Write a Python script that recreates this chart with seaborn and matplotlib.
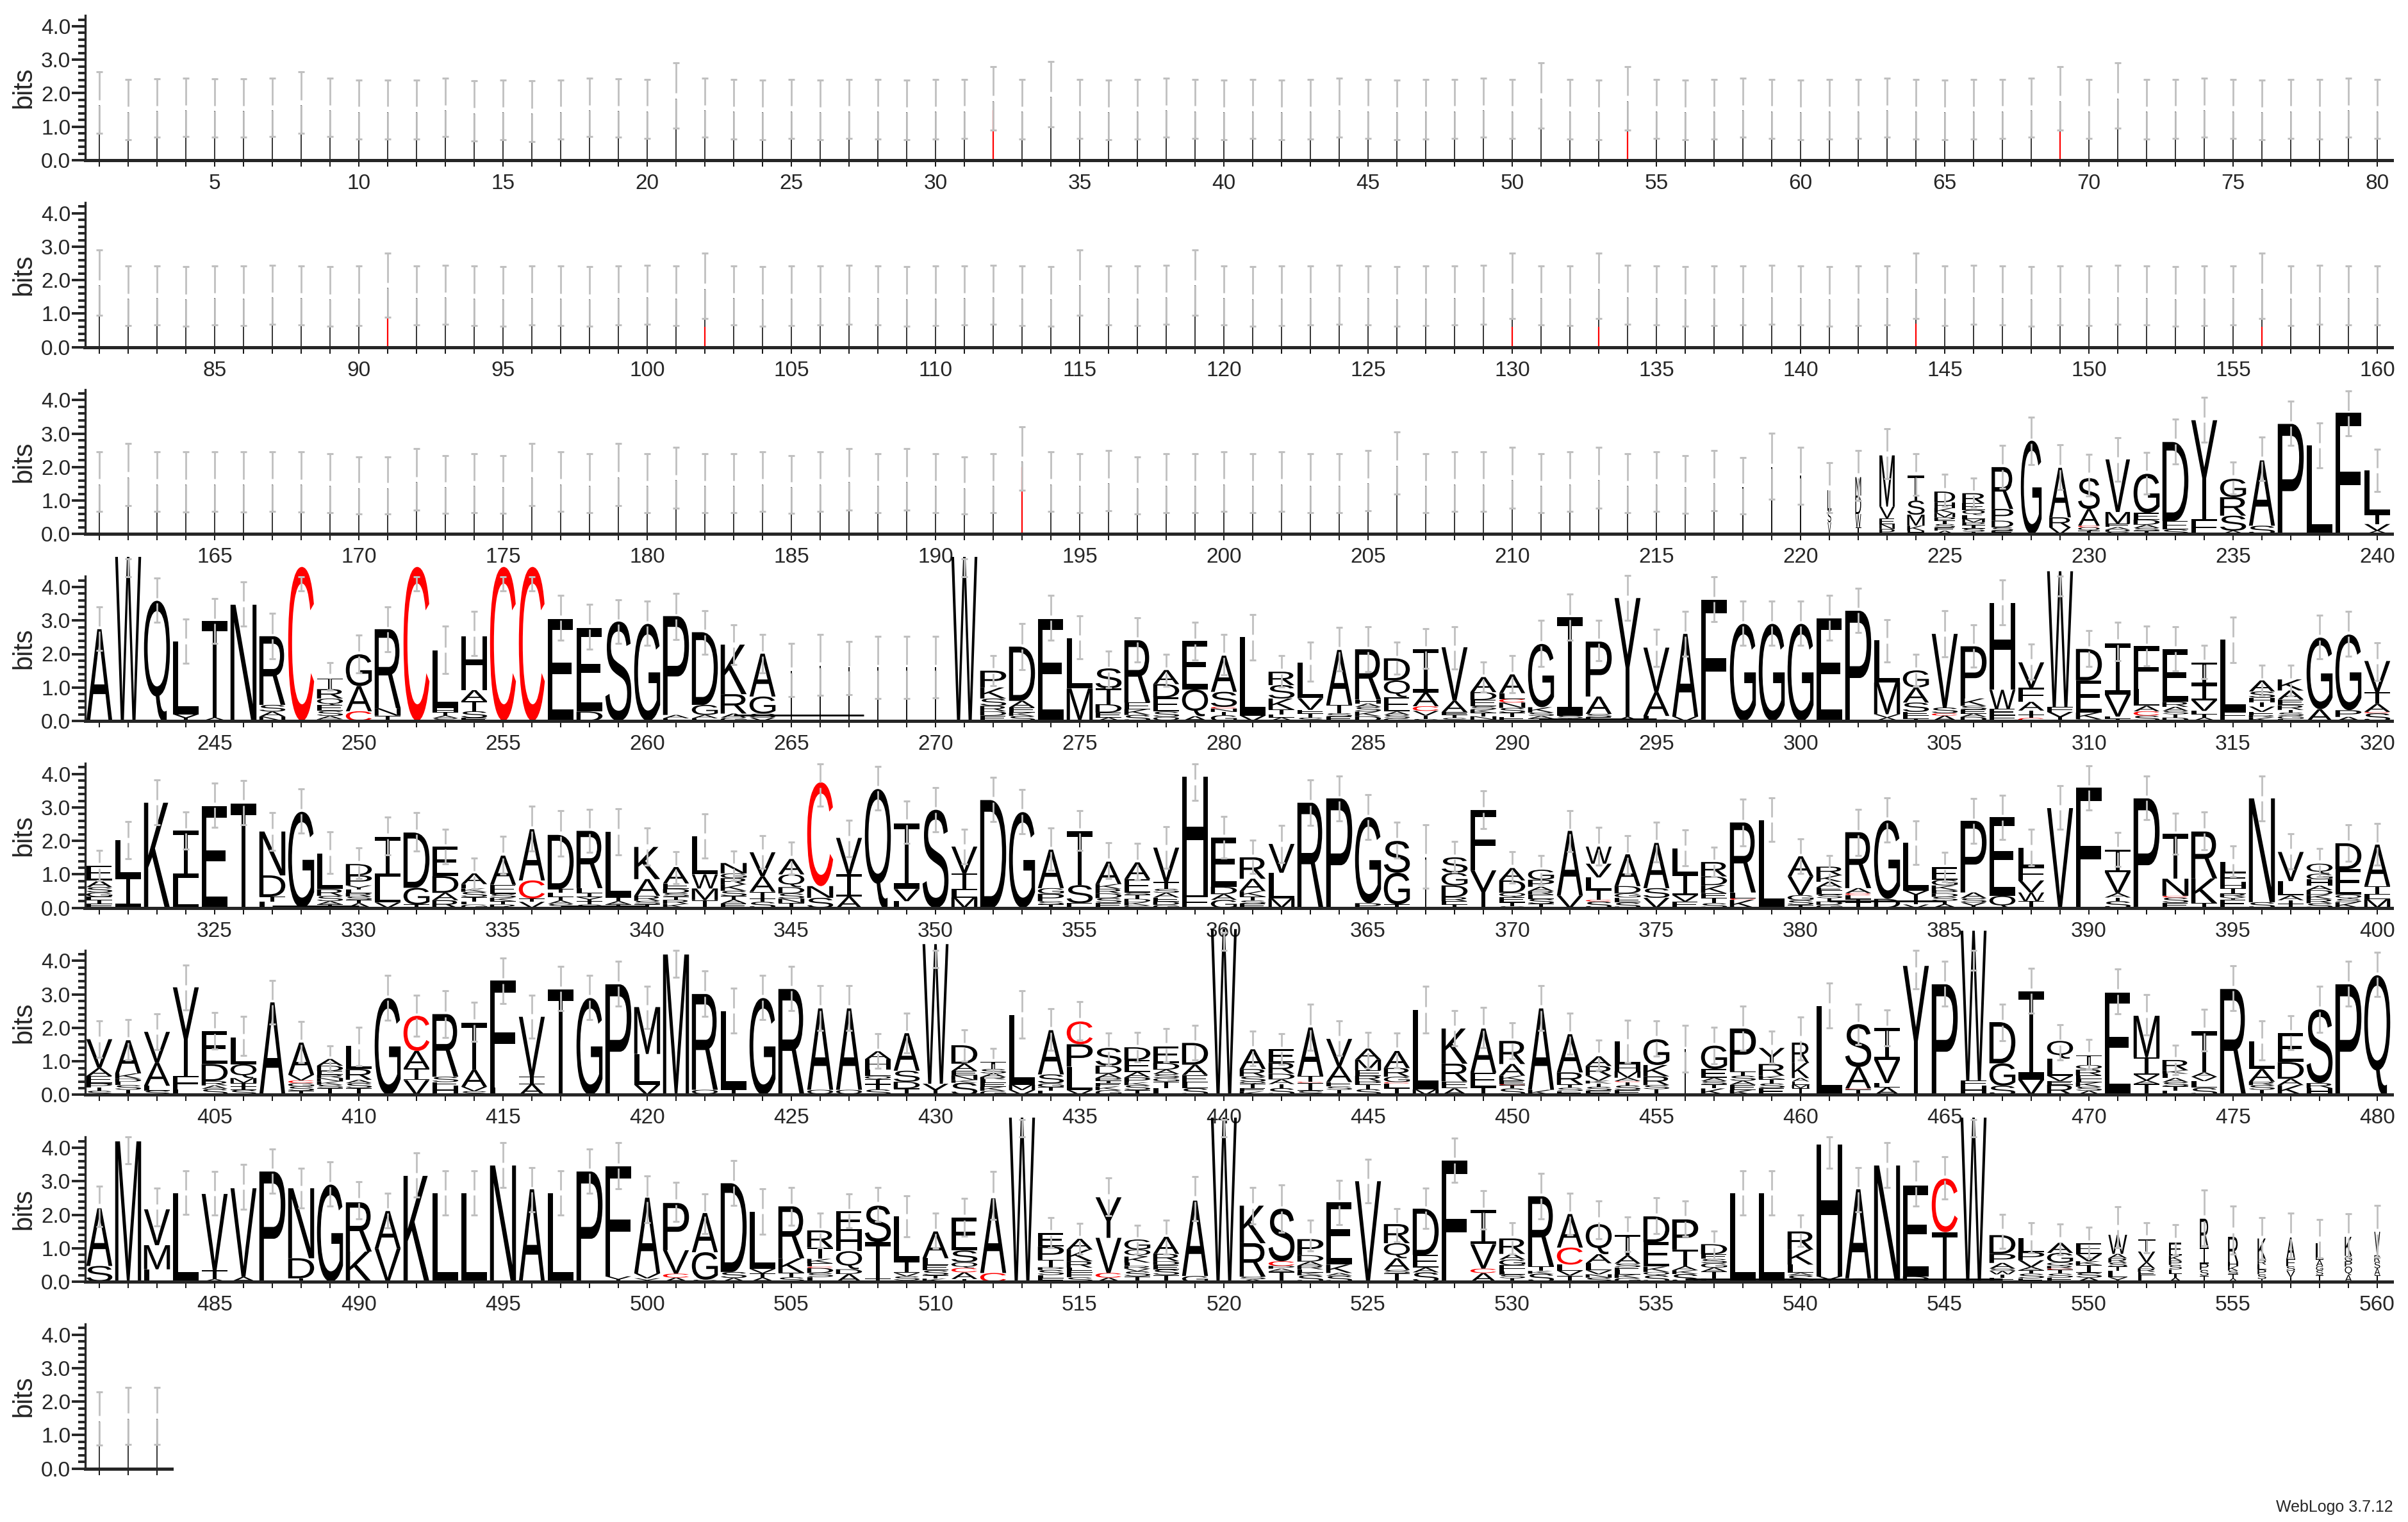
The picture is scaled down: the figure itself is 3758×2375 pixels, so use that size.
import matplotlib
matplotlib.use("Agg")
import matplotlib.pyplot as plt
import pandas as pd
import seaborn as sns
from matplotlib.font_manager import FontProperties
from matplotlib.patches import PathPatch
from matplotlib.path import Path
from matplotlib.textpath import TextPath
from matplotlib.ticker import MultipleLocator
from matplotlib.transforms import Affine2D

# ----------------------------
# Data read off the logo
# stacks are written top letter first, "A2.7" = letter A, 2.7 bits
# ----------------------------

hi_1_80 = [2.65, 2.42, 2.43, 2.45, 2.43, 2.43, 2.45, 2.65, 2.45, 2.4,
           2.4, 2.4, 2.45, 2.38, 2.4, 2.38, 2.4, 2.45, 2.43, 2.42,
           2.9, 2.45, 2.42, 2.4, 2.42, 2.4, 2.42, 2.42, 2.4, 2.42,
           2.42, 2.8, 2.42, 2.95, 2.42, 2.4, 2.42, 2.45, 2.42, 2.4,
           2.42, 2.4, 2.42, 2.45, 2.42, 2.4, 2.42, 2.42, 2.45, 2.42,
           2.9, 2.42, 2.4, 2.8, 2.42, 2.4, 2.42, 2.45, 2.42, 2.4,
           2.42, 2.42, 2.45, 2.42, 2.4, 2.42, 2.42, 2.45, 2.8, 2.42,
           2.9, 2.42, 2.42, 2.45, 2.42, 2.4, 2.42, 2.42, 2.45, 2.42]
lo_1_80 = [0.8, 0.62, 0.68, 0.7, 0.68, 0.68, 0.7, 0.8, 0.7, 0.64,
           0.64, 0.64, 0.7, 0.58, 0.62, 0.56, 0.64, 0.7, 0.68, 0.66,
           0.95, 0.68, 0.64, 0.62, 0.66, 0.62, 0.66, 0.64, 0.62, 0.64,
           0.66, 0.9, 0.64, 1.0, 0.66, 0.62, 0.64, 0.68, 0.66, 0.62,
           0.66, 0.62, 0.64, 0.68, 0.66, 0.62, 0.64, 0.66, 0.68, 0.66,
           0.95, 0.64, 0.62, 0.9, 0.66, 0.62, 0.64, 0.68, 0.66, 0.62,
           0.64, 0.66, 0.68, 0.64, 0.62, 0.64, 0.66, 0.68, 0.9, 0.66,
           0.95, 0.64, 0.66, 0.68, 0.66, 0.62, 0.66, 0.64, 0.68, 0.66]
hi_81_160 = [2.9, 2.42, 2.42, 2.4, 2.42, 2.42, 2.45, 2.42, 2.4, 2.42,
             2.8, 2.42, 2.45, 2.42, 2.4, 2.42, 2.42, 2.4, 2.42, 2.45,
             2.42, 2.8, 2.42, 2.4, 2.42, 2.42, 2.45, 2.42, 2.4, 2.42,
             2.42, 2.45, 2.42, 2.4, 2.9, 2.42, 2.42, 2.45, 2.9, 2.42,
             2.4, 2.42, 2.42, 2.45, 2.42, 2.4, 2.42, 2.42, 2.45, 2.8,
             2.42, 2.42, 2.8, 2.45, 2.42, 2.4, 2.42, 2.42, 2.45, 2.42,
             2.4, 2.42, 2.42, 2.8, 2.42, 2.45, 2.42, 2.4, 2.42, 2.42,
             2.45, 2.42, 2.4, 2.42, 2.42, 2.8, 2.42, 2.45, 2.42, 2.42]
lo_81_160 = [0.95, 0.64, 0.66, 0.62, 0.66, 0.64, 0.68, 0.66, 0.62, 0.64,
             0.9, 0.66, 0.68, 0.64, 0.62, 0.66, 0.64, 0.62, 0.66, 0.68,
             0.64, 0.85, 0.66, 0.62, 0.64, 0.66, 0.68, 0.66, 0.62, 0.64,
             0.66, 0.68, 0.64, 0.62, 0.95, 0.66, 0.64, 0.68, 0.95, 0.66,
             0.62, 0.64, 0.66, 0.68, 0.66, 0.62, 0.64, 0.66, 0.68, 0.85,
             0.66, 0.64, 0.85, 0.68, 0.66, 0.62, 0.64, 0.66, 0.68, 0.66,
             0.62, 0.64, 0.66, 0.85, 0.64, 0.68, 0.66, 0.62, 0.66, 0.64,
             0.68, 0.66, 0.62, 0.64, 0.66, 0.85, 0.64, 0.68, 0.66, 0.66]
hi_161_217 = [2.45, 2.7, 2.45, 2.45, 2.45, 2.45, 2.45, 2.45, 2.4, 2.3,
              2.3, 2.55, 2.35, 2.4, 2.35, 2.7, 2.45, 2.4, 2.7, 2.4,
              2.6, 2.4, 2.4, 2.45, 2.35, 2.45, 2.55, 2.4, 2.55, 2.4,
              2.3, 2.4, 3.2, 2.45, 2.4, 2.5, 2.3, 2.4, 2.4, 2.45,
              2.4, 2.45, 2.4, 2.4, 2.5, 3.05, 2.4, 2.45, 2.45, 2.6,
              2.4, 2.45, 2.6, 2.4, 2.45, 2.35, 2.5]
lo_161_217 = [0.68, 0.85, 0.68, 0.66, 0.68, 0.66, 0.68, 0.66, 0.64, 0.6,
              0.6, 0.72, 0.62, 0.64, 0.62, 0.85, 0.68, 0.64, 0.85, 0.64,
              0.78, 0.64, 0.64, 0.68, 0.62, 0.68, 0.72, 0.64, 0.72, 0.64,
              0.6, 0.64, 1.3, 0.68, 0.64, 0.7, 0.6, 0.64, 0.64, 0.68,
              0.64, 0.68, 0.64, 0.64, 0.7, 1.2, 0.64, 0.68, 0.68, 0.78,
              0.64, 0.68, 0.78, 0.64, 0.68, 0.62, 0.7]

# C content in the otherwise gap-only columns
red_thin = {32: 1.5, 54: 0.85, 69: 0.85, 91: 0.85, 102: 0.6, 130: 0.6,
            133: 0.6, 144: 0.7, 156: 0.6, 193: 2.0}

stacks_218_240 = ["I1.4", "I2.0", "I1.75", "L.6 S.35 V.35", "M.55 D.55 W.4 T.2",
                  "M1.53 V.35 E.17 N.15 P.15", "T.75 S.42 M.33 K.15 H.1",
                  "D.32 H.17 K.15 M.13 P.1 T.1 S.1 E.1 A.1", "R.3 E.2 Q.15 L.12 M.1 P.08 I.1 S.1 T.07",
                  "R1.25 P.35 D.2 S.1 E.1", "G2.79", "A1.48 R.3 V.2", "S.92 A.5 C.05 Q.1 T.1",
                  "V1.57 M.35 E.1 A.08 D.06 S.07", "G1.17 E.2 D.15 A.1 S.08 T.1", "D2.36 E.25 S.14", "Y2.96 F.44",
                  "G.55 R.55 S.45 A.1", "A1.95 S.25", "P3.29", "L2.64", "F3.62", "L1.3 T.3 V.2 A.1"]
hi_218_240 = [2.29, 3.02, 2.6, 2.13, 2.5, 3.15, 2.4, 1.78, 1.68, 2.64, 3.5, 2.66, 2.39,
              2.87, 2.43, 3.44, 4.08, 2.16, 2.9, 3.96, 3.31, 4.27, 2.53]
lo_218_240 = [0.6, 1.05, 0.89, 0.63, 1.0, 1.65, 1.15, 0.84, 0.79, 1.37, 2.07, 1.33, 1.14,
              1.57, 1.2, 2.1, 2.75, 1.2, 1.59, 2.64, 1.98, 2.94, 1.27]

stacks_241_320 = [
    "A2.74", "W4.9", "Q3.59", "L2.17 Y.2", "T2.89 A.1", "N3.47", "R2.05 S.2 A.15 N.13", "C4.6",
    "T.32 R.28 Q.2 E.17 S.15 A.1 D.05", "G.95 A.75 C.29", "R2.36 N.22 T.16", "C4.6",
    "L1.72 H.12 T.1 A.08 S.08", "H1.6 A.33 T.3 S.2 E.09", "C4.6", "C4.6", "E3.05", "E2.5 D.28", "S2.97", "G2.9",
    "P2.95 A.1 E.08", "D2.17 G.3 A.1 E.08", "K1.48 R.58 A.12 G.1", "A1.28 G.51 S.12 V.1",
    "I1.5", "I1.65", "I1.6", "I1.6", "I1.6", "I1.6",
    "W4.9", "P.5 K.33 S.22 R.16 D.13 E.16", "D1.62 A.2 E.15 K.1 S.15", "E3.05", "L1.5 M.97", "S.6 T.47 D.25 E.15 A.1",
    "R1.86 E.2 K.17 S.18", "A.42 D.4 E.42 S.16 Q.12", "E1.45 Q.8 A.14", "A1.08 S.45 C.05 N.1 T.1 G.17",
    "L2.35 V.16", "R.4 S.4 K.33 T.14 E.1 A.1", "L1.06 V.35 F.1 T.13 S.1", "A1.64 T.25 S.1 E.13",
    "R1.5 H.12 A.1 S.14 K.14 D.14", "D.66 Q.5 E.43 A.1 S.1 G.08", "I1.29 A.41 C.14 V.14 T.1 S.06", "V1.6 A.34 F.07 T.1 S.09",
    "A.45 D.23 E.19 S.1 K.1 T.1 N.1 G.04", "A.56 L.17 C.11 N.16 S.15 T.12 E.12", "G1.89 K.16 S.1 A.08 T.07", "I2.94 S.08 T.08",
    "P1.64 A.52 S.1 E.11", "Y3.55 A.12", "V1.33 A.71 L.1 S.05", "A2.47 V.13", "F3.62", "G2.9", "G2.9", "G2.9",
    "E3.06", "P3.29", "L1.26 M.95 V.1 A.1", "G.51 A.45 S.28 E.1 F.1 T.07", "V2.2 S.17 C.07 A.16", "P1.56 K.22 S.11 E.12 A.1 D.12",
    "H2.59 W.57 E.19 F.17", "V.76 F.42 A.26 I.12 T.1 C.09", "W4.05 F.15 Y.27", "D.94 E.96 K.2 S.05", "I1.53 V.66 L.06 T.07",
    "F1.27 L.51 A.16 C.13 S.16", "E1.57 R.15 A.12 S.1 T.1 D.1", "I.66 I.46 V.32 L.1 T.1 A.1",
    "L2.17 F.18 E.08", "A.33 S.19 H.13 T.13 V.16 E.1 R.07 K.1", "K.33 A.27 E.17 R.14 T.08 S.1 G.09 L.06", "G2.14 A.35",
    "G2.26 P.2 A.12", "V.93 T.35 A.24 C.04 S.23"]
hi_241_320 = [3.41, 4.85, 4.26, 3.04, 3.66, 4.15, 3.21, 4.31, 1.75, 2.57, 3.41, 4.31, 2.84, 3.27, 4.31, 4.31,
              3.75, 3.48, 3.62, 3.57, 3.8, 3.3, 2.88, 2.58, 2.32, 2.58, 2.37, 2.52, 2.52, 2.52, 4.85, 1.95,
              2.9, 3.75, 3.13, 2.09, 3.08, 2.0, 2.95, 2.58, 3.18, 1.95, 2.35, 2.79, 2.81, 2.36, 2.76, 2.82,
              1.77, 1.96, 3.0, 3.78, 3.0, 4.34, 2.74, 3.27, 4.3, 3.57, 3.57, 3.57, 3.75, 3.97, 3.03, 2.0,
              3.3, 2.87, 4.21, 2.3, 4.32, 2.7, 2.94, 2.84, 2.82, 2.25, 3.11, 1.67, 1.67, 3.15, 3.27, 2.34]
lo_241_320 = [2.1, 4.31, 2.94, 1.72, 2.32, 2.83, 1.85, 3.89, 0.92, 1.44, 2.06, 3.89, 1.42, 1.95, 3.89, 3.89,
              2.42, 2.14, 2.31, 2.25, 2.44, 2.0, 1.68, 1.44, 0.72, 0.77, 0.78, 0.67, 0.67, 0.68, 4.31, 1.05,
              1.53, 2.42, 1.85, 0.99, 1.77, 1.04, 1.81, 1.37, 1.82, 1.01, 1.18, 1.5, 1.47, 1.39, 1.56, 1.55,
              0.86, 0.84, 1.63, 2.42, 1.79, 3.0, 1.63, 1.93, 2.97, 2.25, 2.25, 2.25, 2.42, 2.64, 1.77, 1.04,
              1.91, 1.6, 2.87, 1.24, 3.73, 1.63, 1.79, 1.64, 1.49, 1.26, 1.75, 0.75, 0.75, 1.85, 1.93, 1.21]

stacks_321_400 = [
    "E.44 A.2 S.16 G.13 E.1 T.1 F.13", "L1.08 I.9 V.04", "K3.14", "I1.41 L.9", "E3.03", "T3.11",
    "N1.31 D.63 T.16 L.18", "G2.87", "L1.07 R.2 S.16 A.1 T.1", "D.34 P.3 Y.12 L.11 R.1 S.1 T.1 A.14",
    "I1.19 L.77 V.16", "D1.65 G.5 T.1", "E.88 D.5 A.22 R.23", "A.32 E.13 K.1 S.16 T.14 L.08 G.1",
    "A.87 E.27 S.12 K.1 T.1 R.1", "A1.53 C.54 I.1 V.18", "D1.62 T.1 L.14 I.1 A.1 S.12", "R1.71 L.15 I.12 Y.12 T.1 S.1",
    "L1.98 I.1 A.1 T.1", "K.96 A.5 R.15 S.1 T.11", "A.49 E.16 D.13 S.1 T.1 R.12 K.12", "L1.14 W.42 M.35 T.23",
    "N.31 G.14 R.19 K.19 S.16 T.1 A.12 E.13", "V.72 A.46 T.2 I.1 S.18", "A.46 Q.38 D.19 S.15 N.13 T.15",
    "C3.1 N.35 S.3",
    "V1.09 I.66 A.34", "Q3.55", "I1.97 V.36 L.2", "S2.93", "V.8 I.5 L.22 M.31", "D3.22", "G2.86",
    "A1.15 G.17 P.22 S.1 T.1", "T1.62 S.54 E.14", "A.67 K.14 R.14 D.14 S.14 E.15", "A.5 E.41 S.06 T.12 D.1 K.1 G.07",
    "V1.03 T.2 S.12 A.14 E.12 D.1 G.09", "H3.55 F.37", "E1.46 D.22 A.17 G.24", "R.64 A.37 K.16 T.12 S.1 E.12",
    "V.86 L.77 M.28", "R3.14", "P3.27", "G2.57 P.14", "S.95 G.95 T.1", "I1.51", "S.46 G.38 D.35 R.12 E.1 T.1",
    "F1.8 Y1.12", "A.37 D.37 Q.13 E.15 T.12 S.05", "G.3 P.21 A.13 R.1 E.13 S.15 T.12", "A1.93 V.37",
    "W.51 V.41 L.37 T.18 I.12 C.05 S.19", "A.95 D.22 G.12 E.15 S.16", "A1.35 S.29 V.3", "L.77 I.62 V.19 E.19",
    "R.43 D.26 K.24 E.15 T.15 S.14", "R2.09 L.17 C.05 K.24", "L2.61", "A.6 V.56 G.15 S.14 T.09",
    "R.26 K.19 A.17 E.1 L.11 S.11 T.1 D.1 G.09", "R1.67 A.15 C.06 L.12 I.1 T.16", "G2.34 D.27", "L1.43 Y.22 I.1 T.1 V.1",
    "E.37 G.17 K.14 P.1 D.1 S.12 T.1 A.11", "P2.14 A.17 S.13 Y.16", "E2.35 Q.36", "L.57 F.41 V.36 W.26 I.2",
    "V2.98", "F3.59", "I.67 V.63 A.13 T.11 S.2", "P3.27", "T1.34 N.51 C.05 S.16 E.15", "R1.4 K.74 T.14",
    "L.33 F.28 H.19 I.16 R.1 Y.07 E.25", "N3.1 S.17", "V.87 L.43 A.14 T.1 I.13", "Q.3 G.17 H.19 A.13 D.14 K.13 R.12 S.14",
    "D.77 E.77 Q.12 S.1 K.17", "A1.24 I.25 L.14 M.26"]
hi_321_400 = [1.72, 2.58, 3.82, 2.86, 3.73, 3.81, 2.84, 3.55, 2.28, 1.8, 2.71, 2.85, 2.35, 1.49, 2.14, 3.04,
              2.9, 2.95, 2.97, 2.39, 1.68, 2.81, 1.7, 2.16, 1.96, 4.31, 2.62, 4.22, 3.2, 3.59, 2.35, 3.9,
              3.54, 2.38, 2.9, 1.94, 1.92, 2.42, 4.3, 2.74, 2.02, 2.47, 3.82, 3.93, 3.39, 2.55, 2.48, 1.99,
              3.5, 1.67, 1.56, 2.9, 2.41, 2.16, 2.55, 2.33, 1.81, 3.24, 3.29, 2.07, 1.56, 2.95, 3.29, 2.6,
              1.66, 3.27, 3.36, 2.35, 3.65, 4.25, 2.26, 3.94, 2.83, 2.87, 1.85, 3.94, 2.21, 1.78, 2.48, 2.52]
lo_321_400 = [0.82, 1.46, 2.49, 1.75, 2.41, 2.48, 1.72, 2.23, 1.02, 0.87, 1.58, 1.7, 1.32, 0.57, 1.0, 1.7,
              1.54, 1.65, 1.59, 1.28, 0.73, 1.48, 0.82, 1.18, 1.0, 3.03, 1.53, 2.92, 1.93, 2.28, 1.32, 2.58,
              2.21, 1.13, 1.72, 0.87, 0.83, 1.18, 3.21, 1.48, 1.02, 1.35, 2.47, 2.6, 2.04, 1.48, 0.59, 1.07,
              2.36, 0.75, 0.7, 1.67, 1.27, 1.0, 1.38, 1.26, 0.94, 1.86, 1.98, 1.03, 0.67, 1.56, 1.96, 1.29,
              0.78, 1.93, 2.05, 1.26, 2.34, 2.93, 1.23, 2.63, 1.6, 1.74, 0.93, 2.6, 1.16, 0.93, 1.4, 1.27]

stacks_401_480 = [
    "V.86 A.24 E.22 P.12 T.1 S.12", "A.99 K.16 D.09 L.1 S.14 T.15", "V.92 A.69 L.14 S.13", "Y2.65 F.4 L.16",
    "E.98 D.51 R.13 A.1 S.18", "L.81 Q.41 M.15 T.1 I.1 S.15", "A2.76", "A.96 V.17 C.08 G.1 S.13 T.12",
    "A.2 D.16 E.11 R.1 N.1 K.1 S.1 T.2", "L.7 R.32 A.1 S.15 T.2", "G2.89", "C1.05 A.52 I.35 V.44", "R1.87 S.16 E.11 H.27",
    "T1.4 A.51 V.13 S.11", "F3.19 L.22", "V1.79 I.22 A.32", "T3.15", "G2.89", "P3.3", "M1.4 L.92 V.3",
    "M4.19", "R2.86 Q.15", "L2.34 I.15", "G2.89", "R3.16", "A2.43 Q.15", "A2.43 Q.15", "A.24 H.3 L.2 Q.1 I.14 T.16 S.16",
    "A1.12 S.33 D.2 T.19", "W4.17 Y.33", "D.55 A.22 E.13 N.14 K.08 S.36", "T.21 S.13 A.11 R.07 L.1 E.12 K.12 G.12",
    "L2.08 M.16 V.14", "A1.32 S.27 G.11 T.1 E.13", "C.68 P.67 L.7 V.14", "S.53 D.24 A.13 P.08 T.07 E.1 K.11 G.14",
    "D.38 E.36 A.16 P.15 K.08 S.15 T.14", "E.5 D.2 A.13 S.12 G.1 T.2 L.2", "D.65 A.31 E.22 L.17 S.2", "W4.95",
    "A.59 R.22 S.16 Q.06 T.13 E.1 K.1", "E.4 R.33 D.17 A.14 T.12 S.2", "A1.45 T.17 C.03 I.24 S.12", "V.82 A.47 E.13 S.1 T.15",
    "A.33 M.32 E.16 R.16 P.1 T.14 S.17", "A.51 R.26 G.16 C.04 L.14 T.2", "L2.37 M.16", "K1.05 R.53 E.21 A.19",
    "A1.32 E.43 T.23", "R.69 A.35 K.14 E.11 C.03 T.1 S.19", "A2.43 K.15", "A1.14 R.36 T.1 S.1 E.11", "A.29 R.29 V.15 K.08 T.1 S.12 E.12",
    "L.7 H.2 M.19 A.1 C.03 T.1 S.14 E.14", "G.77 K.34 R.26 S.12 T.17", "I1.37", "G.7 E.26 A.1 S.1 T.12 K.19",
    "P1.28 T.13 S.15 A.12 E.15 K.15", "Y.48 R.35 K.1 T.13 S.14 E.2", "R.61 K.45 A.1 E.1 M.1 T.2", "L2.65", "S1.28 A.64 C.03 T.16",
    "I.94 V.7 L.13 A.22", "Y3.85", "P3.3", "W4.47 F.16 H.27", "D1.23 G.67 S.27", "I2.63 V.45", "Q.53 L.51 V.16 E.11 R.3",
    "T.29 Q.14 R.17 E.11 L.1 K.13 S.12 A.12", "E3.06", "M1.24 I.52 V.17 A.1 T.33", "R.31 K.1 L.13 A.12 S.13 T.12 E.13",
    "T1.24 A.13 V.13 L.2 S.21", "R3.16", "L.83 A.38 R.1 S.14 T.15", "E.86 D.5 A.19 K.29", "S2.2 R.15 H.2", "P3.3", "Q3.57"]
hi_401_480 = [2.21, 2.25, 2.42, 3.88, 2.46, 2.34, 3.41, 2.19, 1.47, 2.02, 3.57, 2.97, 3.1, 2.76, 4.08, 2.98,
              3.83, 3.57, 3.98, 3.24, 4.32, 3.7, 3.19, 3.57, 3.84, 3.27, 3.27, 1.82, 2.44, 4.32, 1.95, 1.39,
              3.1, 2.57, 2.79, 1.85, 1.87, 1.97, 2.07, 4.85, 1.9, 1.82, 2.71, 2.21, 1.86, 1.85, 3.24, 2.52,
              2.62, 2.15, 3.27, 2.44, 1.64, 2.23, 2.21, 2.07, 2.02, 2.64, 1.9, 2.33, 3.33, 2.7, 2.53, 4.32,
              3.98, 4.32, 2.71, 3.78, 2.09, 1.66, 3.75, 2.99, 1.49, 2.55, 3.85, 2.2, 2.37, 3.25, 3.98, 4.25]
lo_401_480 = [1.12, 1.04, 1.34, 2.53, 1.36, 1.17, 2.11, 0.96, 0.7, 0.86, 2.23, 1.75, 1.72, 1.6, 2.73, 1.7,
              2.51, 2.25, 2.65, 1.98, 3.51, 2.35, 1.84, 2.25, 2.52, 1.93, 1.93, 0.8, 1.26, 3.8, 1.01, 0.61,
              1.69, 1.33, 1.64, 0.89, 0.99, 0.98, 1.05, 4.32, 0.86, 0.91, 1.32, 1.18, 0.8, 0.82, 1.85, 1.47,
              1.4, 1.08, 1.93, 1.21, 0.73, 0.96, 1.15, 0.67, 0.93, 1.33, 0.94, 1.05, 1.99, 1.5, 1.47, 3.17,
              2.65, 3.73, 1.61, 2.44, 1.05, 0.77, 2.41, 1.79, 0.61, 1.31, 2.52, 1.04, 1.34, 1.87, 2.65, 2.93]

stacks_481_560 = [
    "A1.72 S.47", "M4.19", "V1.07 M.72 L.37", "L2.65", "V2.28 T.26 A.08", "V2.65 A.14", "P3.29", "N2.09 D.6 T.1",
    "G2.9", "R1.47 K.9", "A1.12 V.99", "K3.16", "L2.65", "L2.65", "N3.47", "A2.76", "L2.65", "P3.29", "F3.29 Y.16",
    "A2.26 V.15 Y.1", "P1.41 V.7 C.12 A.12", "A1.17 G.82 S.06", "D2.65 S.18 A.11", "L1.71 V.13 T.13 A.12",
    "R1.55 K.43 T.14 S.13", "R.51 T.34 K.13 E.1 C.04 D.15 S.12 L.14", "E.6 H.6 Q.54 D.14 A.23", "S1.09 T1.09 I.09",
    "L1.34 I.35 V.1 S.12 T.04", "A.8 L.2 E.16 S.15 T.1 K.09", "E.98 S.35 Q.17 C.13 A.2 T.08", "A2.23 C.26", "W4.9",
    "E.4 P.4 T.22 P.08 S.15 L.1 F.1", "A.32 K.35 R.19 L.08 E.06 F.15 S.13", "Y1.21 V1.05 C.14 A.12", "G.3 Q.21 K.18 L.1 R.08 V.08 S.15 T.16",
    "A.51 R.22 D.11 E.13 S.17 T.2", "A2.25 G.17", "W4.9",
    "K1.12 R1.0 S.08 A.07", "S1.57 C.14 P.08 A.08 T.31", "P.48 D.19 A.12 R.11 E.1 K.08 S.19", "E1.86 K.25 A.08 S.18", "V3.0",
    "R.57 Q.45 A.35 S.1 T.25", "D1.38 E.38 A.14 S.28", "F3.62", "I1.02 V.73 C.13 A.26", "R.46 A.17 G.17 E.1 F.08 L.1 S.11 T.1",
    "R2.1 T.13 K.08 S.24", "A1.0 C.51 L.18 V.15 T.18", "Q.9 A.27 L.21 V.12 N.1 S.12", "T.62 A.24 S.11 E.07 L.14 K.11 G.11",
    "D.77 E.73 K.16 Q.1 S.19", "P.9 T.5 A.12 K.11 S.23", "D.3 E.14 S.13 G.13 A.12 T.2 L.1", "L2.65", "L2.65",
    "R.54 K.45 L.25 A.07 S.19", "H3.94 Y.16", "A2.66 S.1", "N3.47", "E2.72 D.16", "C1.6 T1.48", "W4.9",
    "D.56 P.27 A.17 S.07 W.1 T.1 E.12", "L.43 P.24 V.2 A.1 T.1 S.14 E.1", "A.3 G.29 Q.1 R.08 C.03 T.12 S.12 E.12", "E.32 V.21 K.11 T.13 I.1 S.15 A.12",
    "W.57 A.13 R.13 S.12 T.12 L.2 Y.13", "T.36 V.32 A.19 R.1 E.1 L.19", "E.38 K.15 P.13 S.13 L.13 T.12 A.12",
    "R.86 I.48 P.19 S.17 T.18", "R.75 H.13 K.13 S.1 T.13 A.1", "K.65 R.13 L.15 P.14 S.14 T.08", "A.64 F.22 S.13 V.19 T.14",
    "L.5 A.19 G.12 S.14 T.2", "K.57 G.16 P.16 Q.25 A.2", "V.7 R.2 S.19 A.2 T.2"]
hi_481_560 = [2.86, 4.32, 2.8, 3.32, 3.3, 3.51, 3.97, 3.39, 3.57, 2.99, 2.64, 3.84, 3.32, 3.32, 4.15, 3.41,
              3.32, 3.97, 4.15, 3.16, 2.97, 2.62, 3.61, 2.78, 2.82, 2.04, 2.62, 2.82, 2.57, 2.04, 2.49, 3.29,
              4.85, 1.91, 1.75, 3.11, 1.69, 1.84, 3.14, 4.85, 2.81, 2.89, 1.83, 3.03, 3.66, 2.19, 2.79, 4.29,
              2.72, 1.77, 3.24, 2.65, 2.42, 1.93, 2.5, 2.41, 1.52, 3.32, 3.32, 2.0, 4.32, 3.41, 4.15, 3.59,
              3.73, 4.85, 2.01, 1.77, 1.72, 1.63, 2.23, 1.77, 1.7, 2.73, 2.25, 1.91, 2.04, 1.86, 2.03, 2.28]
lo_481_560 = [1.65, 3.52, 1.67, 2.01, 1.99, 2.16, 2.65, 2.2, 2.25, 1.88, 1.6, 2.52, 2.0, 2.0, 2.82, 2.09,
              2.0, 2.65, 2.77, 1.77, 1.79, 1.44, 2.27, 1.42, 1.69, 1.01, 1.6, 1.79, 1.34, 0.99, 1.36, 1.86,
              4.32, 1.02, 0.83, 1.98, 0.83, 0.83, 1.82, 4.32, 1.72, 1.48, 0.91, 1.7, 2.36, 1.18, 1.58, 2.97,
              1.56, 0.83, 1.88, 1.4, 1.29, 0.89, 1.44, 1.36, 0.67, 2.0, 2.0, 1.05, 3.39, 2.09, 2.82, 2.25,
              2.46, 4.32, 0.99, 0.86, 0.8, 0.7, 1.02, 0.86, 0.8, 1.08, 0.83, 0.67, 0.7, 0.7, 0.73, 0.73]

hi_561_563 = [2.3, 2.42, 2.42]
lo_561_563 = [0.7, 0.72, 0.72]

# columns whose letters are squeezed because most sequences have a gap there
column_widths = {218: .02, 219: .05, 220: .1, 221: .12, 222: .2, 223: .53, 224: .6, 225: .72, 226: .78,
                 227: .75, 228: .72, 229: .75, 230: .75, 231: .85,
                 265: .03, 266: .03, 267: .03, 268: .03, 269: .03, 270: .03, 367: .03, 456: .12,
                 460: .6, 551: .65, 552: .6, 553: .45, 554: .3, 555: .35, 556: .3, 557: .3,
                 558: .25, 559: .25, 560: .2}

# squashed letters that show up as long flat rules (first, last, bits)
flat_rules = [(263, 267.5, .18), (291, 295, .06), (327, 330, .05), (337, 340, .06),
              (381, 385, .2), (536, 547, .08)]

row_starts = [1, 81, 161, 241, 321, 401, 481, 561]
row_ends = [80, 160, 240, 320, 400, 480, 560, 563]
row_zero_px = [250, 541.7, 833.4, 1125, 1416.7, 1708.4, 2000, 2291.7]

FIG_W, FIG_H = 3758, 2375
SLOT_PX = 45
LEFT_PX = 132.5
TOP_BITS = 4.32
BITS_PX = 52.25
GREY = "#c0c0c0"

all_hi = hi_1_80 + hi_81_160 + hi_161_217 + hi_218_240 + hi_241_320 + hi_321_400 + hi_401_480 + hi_481_560 + hi_561_563
all_lo = lo_1_80 + lo_81_160 + lo_161_217 + lo_218_240 + lo_241_320 + lo_321_400 + lo_401_480 + lo_481_560 + lo_561_563
all_stacks = stacks_218_240 + stacks_241_320 + stacks_321_400 + stacks_401_480 + stacks_481_560
assert len(all_hi) == 563 and len(all_lo) == 563, (len(all_hi), len(all_lo))
assert len(all_stacks) == 343, len(all_stacks)

stack_of = dict(zip(range(218, 561), all_stacks))
bars = pd.DataFrame({"pos": range(1, 564), "hi": all_hi, "lo": all_lo})

# ----------------------------
# Drawing helpers
# ----------------------------

sns.set_theme(style="ticks")
plt.rcParams["font.family"] = ["Liberation Sans", "DejaVu Sans"]

glyph_font = FontProperties(family="Liberation Sans")
glyph_cache = {}

# the logo's I has bars top and bottom, the Liberation one is a plain stem
SERIF_I = Path([(0, 0), (1, 0), (1, .09), (.58, .09), (.58, .91), (1, .91), (1, 1),
                (0, 1), (0, .91), (.42, .91), (.42, .09), (0, .09), (0, 0)], closed=True)


def glyph(letter):
    if letter == "I":
        return SERIF_I
    if letter not in glyph_cache:
        path = TextPath((0, 0), letter, size=1, prop=glyph_font)
        box = path.get_extents()
        unit = Affine2D().translate(-box.x0, -box.y0).scale(1 / box.width, 1 / box.height)
        glyph_cache[letter] = unit.transform_path(path)
    return glyph_cache[letter]


def parse_stack(text):
    return [(token[0], float(token[1:])) for token in text.split()]


def draw_stack(ax, pos, text):
    width = column_widths.get(pos, .9)
    base = 0
    for letter, height in reversed(parse_stack(text)):
        # hairline columns: the serif I would lose its stem at this width
        if width <= .12 and letter == "I":
            ax.vlines(pos, base, base + height, color="black", lw=1.3, zorder=2, clip_on=False)
            base += height
            continue
        place = Affine2D().scale(width, height).translate(pos - width / 2, base)
        path = Path(place.transform_path(glyph(letter)).vertices, glyph(letter).codes)
        colour = "#ff0000" if letter == "C" else "black"
        ax.add_patch(PathPatch(path, fc=colour, ec="none", lw=0, clip_on=False, zorder=2))
        base += height
    return base


def draw_error_bars(ax, sub, tops):
    for row in sub.itertuples():
        top = tops[row.pos]
        mid = (row.hi + row.lo) / 2
        if row.hi > top + .25:
            ax.vlines([row.pos, row.pos], [row.lo, mid + .08], [mid - .08, row.hi], color=GREY, lw=2,
                      clip_on=False, zorder=3)
        else:
            ax.vlines(row.pos, row.lo, row.hi, color=GREY, lw=2, clip_on=False, zorder=3)
    for column in ["hi", "lo"]:
        sns.scatterplot(data=sub, x="pos", y=column, ax=ax, marker="_", s=55, color=GREY,
                        linewidth=2.2, clip_on=False, zorder=4, legend=False)


# ----------------------------
# One axes per row of the logo
# ----------------------------

fig = plt.figure(figsize=(FIG_W / 100, FIG_H / 100), dpi=100)

for start, end, zero_px in zip(row_starts, row_ends, row_zero_px):
    n = end - start + 1
    width_px = n * SLOT_PX
    ax = fig.add_axes([LEFT_PX / FIG_W, (FIG_H - zero_px) / FIG_H,
                       width_px / FIG_W, TOP_BITS * BITS_PX / FIG_H])
    sub = bars[(bars.pos >= start) & (bars.pos <= end)]

    tops = {}
    for row in sub.itertuples():
        if row.pos in stack_of:
            tops[row.pos] = draw_stack(ax, row.pos, stack_of[row.pos])
        else:
            # gap-only columns are a hairline of squeezed letters
            tops[row.pos] = (row.hi + row.lo) / 2 - .08
            ax.vlines(row.pos, 0, tops[row.pos], color="black", lw=1.1, zorder=2, clip_on=False)
            if row.pos in red_thin:
                ax.vlines(row.pos, 0, red_thin[row.pos], color="#ff0000", lw=1.6, zorder=2.5)

    for first, last, bits in flat_rules:
        if start <= first <= end:
            ax.hlines(bits, first, last, color="black", lw=2, zorder=2)

    draw_error_bars(ax, sub, tops)

    ax.set_xlim(start - .5, end + .5)
    ax.set_ylim(0, TOP_BITS)
    sns.despine(ax=ax)
    ax.spines["left"].set_linewidth(2.4)
    ax.spines["bottom"].set_linewidth(3.6)

    ax.set_xticks(range(start, end + 1))
    ax.set_xticklabels([str(p) if p % 5 == 0 else "" for p in range(start, end + 1)])
    ax.yaxis.set_major_locator(MultipleLocator(1))
    ax.yaxis.set_minor_locator(MultipleLocator(.2))
    ax.set_yticks([0, 1, 2, 3, 4])
    ax.set_yticklabels(["0.0", "1.0", "2.0", "3.0", "4.0"])
    ax.tick_params(axis="x", length=7, width=1.3, pad=8, labelsize=24, color="black")
    ax.tick_params(axis="y", which="major", length=15, width=2.8, pad=1, labelsize=24)
    ax.tick_params(axis="y", which="minor", length=8, width=2.8)
    ax.set_xlabel("")
    ax.set_ylabel("bits", fontsize=30)
    ax.yaxis.set_label_coords((57 - LEFT_PX) / width_px, .5)

fig.text(3735 / FIG_W, 1 - 2352 / FIG_H, "WebLogo 3.7.12", fontsize=18, ha="right", va="center")

fig.savefig("out.png", dpi=100, facecolor="white")
